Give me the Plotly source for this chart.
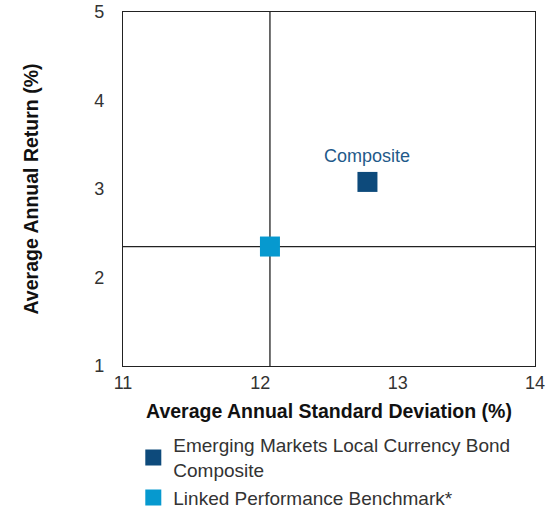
import plotly.graph_objects as go

series_names = ["Emerging Markets Local Currency Bond<br>Composite", "Linked Performance Benchmark*"]
std_dev = [12.78, 12.07]
avg_return = [3.08, 2.35]
colors = ["#0d4a7b", "#0699cf"]
x_ticks = [11, 12, 13, 14]
y_ticks = [1, 2, 3, 4, 5]
label_text = "Composite"

fig = go.Figure()
for name, x, y, c in zip(series_names, std_dev, avg_return, colors):
    fig.add_trace(go.Scatter(x=[x], y=[y], mode="markers", name=name,
                             marker=dict(symbol="square", size=20, color=c, line=dict(width=0))))

# crosshair lines at benchmark
fig.add_shape(type="line", xref="x", yref="paper", x0=std_dev[1], x1=std_dev[1], y0=0, y1=1,
              line=dict(color="#222", width=1.3), layer="below")
fig.add_shape(type="line", xref="paper", yref="y", x0=0, x1=1, y0=avg_return[1], y1=avg_return[1],
              line=dict(color="#222", width=1.3), layer="below")

fig.add_annotation(x=std_dev[0], y=avg_return[0], text=label_text, showarrow=False,
                   yshift=26, font=dict(family="Liberation Sans Narrow, Liberation Sans", size=18, color="#1f5a8a"))

fig.update_layout(
    width=547, height=511,
    margin=dict(l=123, r=12, t=12, b=145, autoexpand=False),
    plot_bgcolor="white", paper_bgcolor="white",
    font=dict(family="Liberation Sans, Arial", color="#222"),
    showlegend=True,
    legend=dict(x=0.025, y=-0.17, xanchor="left", yanchor="top", font=dict(size=19, color="#333"),
                itemsizing="trace", tracegroupgap=0),
    xaxis=dict(range=[11, 14], tickvals=x_ticks, showgrid=False, zeroline=False,
               showline=True, linecolor="#222", linewidth=1.3, mirror=True, ticks="",
               tickfont=dict(size=18, color="#333"), automargin=False,
               title=dict(text="<b>Average Annual Standard Deviation (%)</b>", font=dict(size=19.5, color="#111"), standoff=12)),
    yaxis=dict(range=[1, 5], tickvals=y_ticks, showgrid=False, zeroline=False,
               showline=True, linecolor="#222", linewidth=1.3, mirror=True, ticks="",
               tickfont=dict(size=18, color="#333"), ticklabelstandoff=14, automargin=False,
               title=dict(text="<b>Average Annual Return (%)</b>", font=dict(size=19.5, color="#111"), standoff=50)),
)
fig.write_html("out.html", config={"displayModeBar": False},
               post_script="document.body.style.margin='0';document.body.style.overflow='hidden';")
